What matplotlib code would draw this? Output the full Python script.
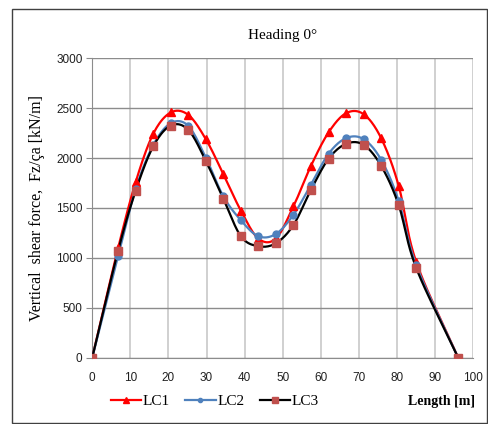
import numpy as np
import matplotlib
matplotlib.use("Agg")
import matplotlib.pyplot as plt
from matplotlib.patches import Rectangle

# Data
length = [0, 6.8, 11.4, 16.0, 20.6, 25.2, 29.8, 34.4, 39.0, 43.6, 48.2,
          52.8, 57.4, 62.0, 66.6, 71.2, 75.8, 80.4, 85.0, 96.0]
lc1 = [0, 1100, 1760, 2243, 2457, 2433, 2190, 1840, 1473, 1193, 1195,
       1517, 1923, 2257, 2450, 2440, 2200, 1723, 960, 0]
lc2 = [0, 1023, 1690, 2130, 2350, 2323, 2005, 1617, 1377, 1217, 1240,
       1433, 1733, 2043, 2200, 2190, 1983, 1573, 930, 0]
lc3 = [0, 1073, 1673, 2117, 2326, 2283, 1973, 1593, 1217, 1117, 1147,
       1330, 1683, 1993, 2143, 2133, 1923, 1530, 900, 0]
xticks = list(range(0, 101, 10))
yticks = list(range(0, 3001, 500))


def smooth(x, y, n=20):
    """Catmull-Rom curve through the points (for drawing, like Excel smoothed lines)."""
    x = np.asarray(x, float)
    y = np.asarray(y, float)
    px = np.concatenate([[2 * x[0] - x[1]], x, [2 * x[-1] - x[-2]]])
    py = np.concatenate([[2 * y[0] - y[1]], y, [2 * y[-1] - y[-2]]])
    ox, oy = [], []
    t = np.linspace(0, 1, n, endpoint=False)
    for i in range(1, len(px) - 2):
        tx = 0.5 * (px[i + 1] - px[i - 1])
        ty = 0.5 * (py[i + 1] - py[i - 1])
        tx2 = 0.5 * (px[i + 2] - px[i])
        ty2 = 0.5 * (py[i + 2] - py[i])
        h00 = 2 * t**3 - 3 * t**2 + 1
        h10 = t**3 - 2 * t**2 + t
        h01 = -2 * t**3 + 3 * t**2
        h11 = t**3 - t**2
        ox.append(h00 * px[i] + h10 * tx + h01 * px[i + 1] + h11 * tx2)
        oy.append(h00 * py[i] + h10 * ty + h01 * py[i + 1] + h11 * ty2)
    ox.append([x[-1]])
    oy.append([y[-1]])
    return np.concatenate(ox), np.concatenate(oy)


fig = plt.figure(figsize=(4.88, 4.24), dpi=100)
fig.patch.set_facecolor("white")
ax = fig.add_axes([0.189, 0.1564, 0.781, 0.7061])

serif = "Liberation Serif"
sans = "Liberation Sans"

red = "#FF0000"
blue = "#4F81BD"
brown = "#C0504D"

sx, sy = smooth(length, lc1)
ax.plot(sx, sy, color=red, lw=1.6, zorder=3)
ax.plot(length, lc1, ls="none", marker="^", ms=5.5, color=red, zorder=4)

sx, sy = smooth(length, lc2)
ax.plot(sx, sy, color=blue, lw=1.6, zorder=3)
ax.plot(length, lc2, ls="none", marker="o", ms=5, color=blue, zorder=4)

sx, sy = smooth(length, lc3)
ax.plot(sx, sy, color="black", lw=1.6, zorder=3)
ax.plot(length, lc3, ls="none", marker="s", ms=5.5, color=brown, zorder=5)

# legend proxies
h1, = ax.plot([], [], color=red, lw=1.6, marker="^", ms=5)
h2, = ax.plot([], [], color=blue, lw=1.6, marker="o", ms=3)
h3, = ax.plot([], [], color="black", lw=1.6, marker="s", ms=5, mfc=brown, mec=brown)
fig.legend([h1, h2, h3], ["LC1", "LC2", "LC3"], loc="center",
           bbox_to_anchor=(0.44, 0.053), ncol=3, frameon=False,
           prop={"family": serif, "size": 11}, handlelength=2.0,
           handletextpad=0.1, columnspacing=1.0)

ax.set_xlim(0, 100)
ax.set_ylim(0, 3000)
ax.set_xticks(xticks)
ax.set_yticks(yticks)
ax.xaxis.grid(True, color="#C8C8C8", lw=1.2)
ax.yaxis.grid(True, color="#8C8C8C", lw=1.0)
ax.set_axisbelow(True)
for s in ["top", "right"]:
    ax.spines[s].set_visible(False)
ax.spines["left"].set_color("#8C8C8C")
ax.spines["bottom"].set_color("#8C8C8C")
ax.tick_params(axis="both", length=4, color="#8C8C8C", labelsize=8.5, pad=3,
               labelcolor="#202020")
ax.tick_params(axis="x", length=0, pad=10)
for lab in ax.get_xticklabels() + ax.get_yticklabels():
    lab.set_fontfamily(sans)

ax.set_title("Heading 0°", family=serif, fontsize=11, pad=14)
ax.set_ylabel("Vertical  shear force,  Fz/ça [kN/m]", family=serif, fontsize=11.5, labelpad=8)
fig.text(0.905, 0.054, "Length [m]", family=serif, fontsize=10, fontweight="bold",
         ha="center", va="center")

fig.add_artist(Rectangle((12 / 488, 1 / 424), 475 / 488, 414 / 424,
                         transform=fig.transFigure, fill=False,
                         edgecolor="#404040", lw=1.0))

fig.savefig("out.png", dpi=100, facecolor="white")
